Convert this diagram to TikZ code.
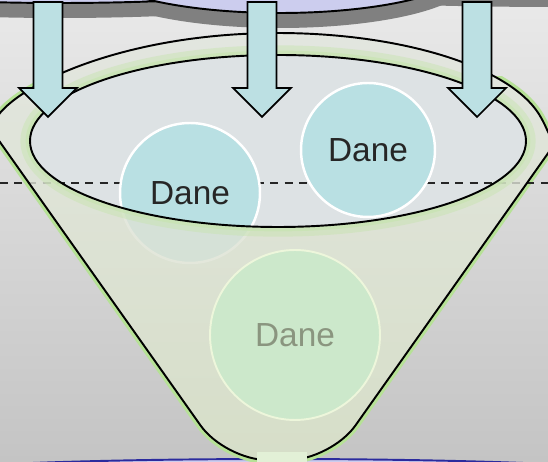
\documentclass[tikz,border=0pt]{standalone}
\usepackage{fontspec}
\setmainfont{Liberation Sans}
\definecolor{cloudfill}{HTML}{CCCDEE}
\definecolor{cloudshadow}{HTML}{808080}
\definecolor{bgtop}{HTML}{E9E9E9}
\definecolor{bgbottom}{HTML}{C4C4C4}
\definecolor{funneltop}{HTML}{E3E6E0}
\definecolor{funnelmid}{HTML}{D5E3C4}
\definecolor{funnelbottom}{HTML}{D6DEC8}
\definecolor{glowgreen}{HTML}{B6E196}
\definecolor{rimgreen}{HTML}{C6E4AE}
\definecolor{mouthfill}{HTML}{DDE2E4}
\definecolor{danefill}{HTML}{B9E0E3}
\definecolor{fadedfill}{HTML}{CCE8CB}
\definecolor{fadedrim}{HTML}{EDF6DB}
\definecolor{fadedtext}{HTML}{8A957F}
\definecolor{arrowfill}{HTML}{BCE0E3}
\definecolor{basin}{HTML}{2B2B9E}
\definecolor{spoutfill}{HTML}{E2F0D6}
\newcommand{\funnel}{(225,2) -- (19,293) arc[start angle=195.7,end angle=-15.7,x radius=269,y radius=107] -- (331,2) -- cycle}
\newcommand{\mouth}{(278,321) ellipse [x radius=248,y radius=86]}
\tikzset{
  cloud/.style={fill=cloudfill,draw=black,line width=1.1pt},
  funnelbody/.style={rounded corners=24,top color=funneltop,middle color=funnelmid,bottom color=funnelbottom},
  outline/.style={draw=black,line width=1.1pt},
  dane/.style={circle,inner sep=0pt,fill=danefill,draw=white,line width=1.4pt,
    text=black!85,font=\fontsize{19}{23}\selectfont},
  fadeddane/.style={dane,fill=fadedfill,draw=fadedrim,line width=1.1pt,text=fadedtext},
  flow/.style={fill=arrowfill,draw=black,line width=1pt},
  cut/.style={draw=black!85,line width=0.8pt,dash pattern=on 4.5pt off 3.6pt}
}
\begin{document}
\begin{tikzpicture}[x=0.02cm,y=0.02cm]
  \useasboundingbox (0,0) rectangle (548,462);
  \clip (0,0) rectangle (548,462);
  \shade[top color=bgtop,bottom color=bgbottom] (0,0) rectangle (548,462);
  \foreach \x/\y/\rx/\ry in {60/482/250/23,280/497/190/48,560/500/400/30}
    \fill[cloudshadow] (\x,\y-15) ellipse [x radius=\rx,y radius=\ry];
  \foreach \x/\y/\rx/\ry in {60/482/250/23,280/497/190/48,560/500/400/30}
    \draw[cloud] (\x,\y) ellipse [x radius=\rx,y radius=\ry];
  \draw[cloud,draw=basin] (278,-16) ellipse [x radius=400,y radius=19];
  \begin{scope}
    \clip (0,0) rectangle (548,385);
    \draw[rounded corners=24,draw=glowgreen,line width=4.5pt] \funnel;
  \end{scope}
  \shade[funnelbody] \funnel;
  \fill[mouthfill] \mouth;
  \coordinate (cutL) at (0,279);
  \coordinate (cutR) at (548,279);
  \draw[cut] (cutL) -- (cutR);
  \path
    (190,269) node[dane,minimum size=2.8cm] (d1){Dane}
    (368,312) node[dane,minimum size=2.68cm] (d2){Dane};
  \shade[funnelbody,even odd rule,fill opacity=0.8] \funnel \mouth;
  \path (295,127) node[fadeddane,minimum size=3.4cm] (d3){Dane};
  \begin{scope}[even odd rule]
    \clip (0,0) rectangle (548,462) \mouth;
    \draw[rimgreen,line width=11pt,opacity=0.45] \mouth;
    \draw[rimgreen,line width=5pt,opacity=0.6] \mouth;
  \end{scope}
  \draw[outline] \mouth;
  \draw[outline,rounded corners=24] \funnel;
  \fill[spoutfill] (257,0) rectangle (307,10);
  \foreach \x in {48,262,477}
    \draw[flow] (\x-14.5,460) -- (\x-14.5,374) -- (\x-29,374) -- (\x,345)
      -- (\x+29,374) -- (\x+14.5,374) -- (\x+14.5,460) -- cycle;
\end{tikzpicture}
\end{document}
